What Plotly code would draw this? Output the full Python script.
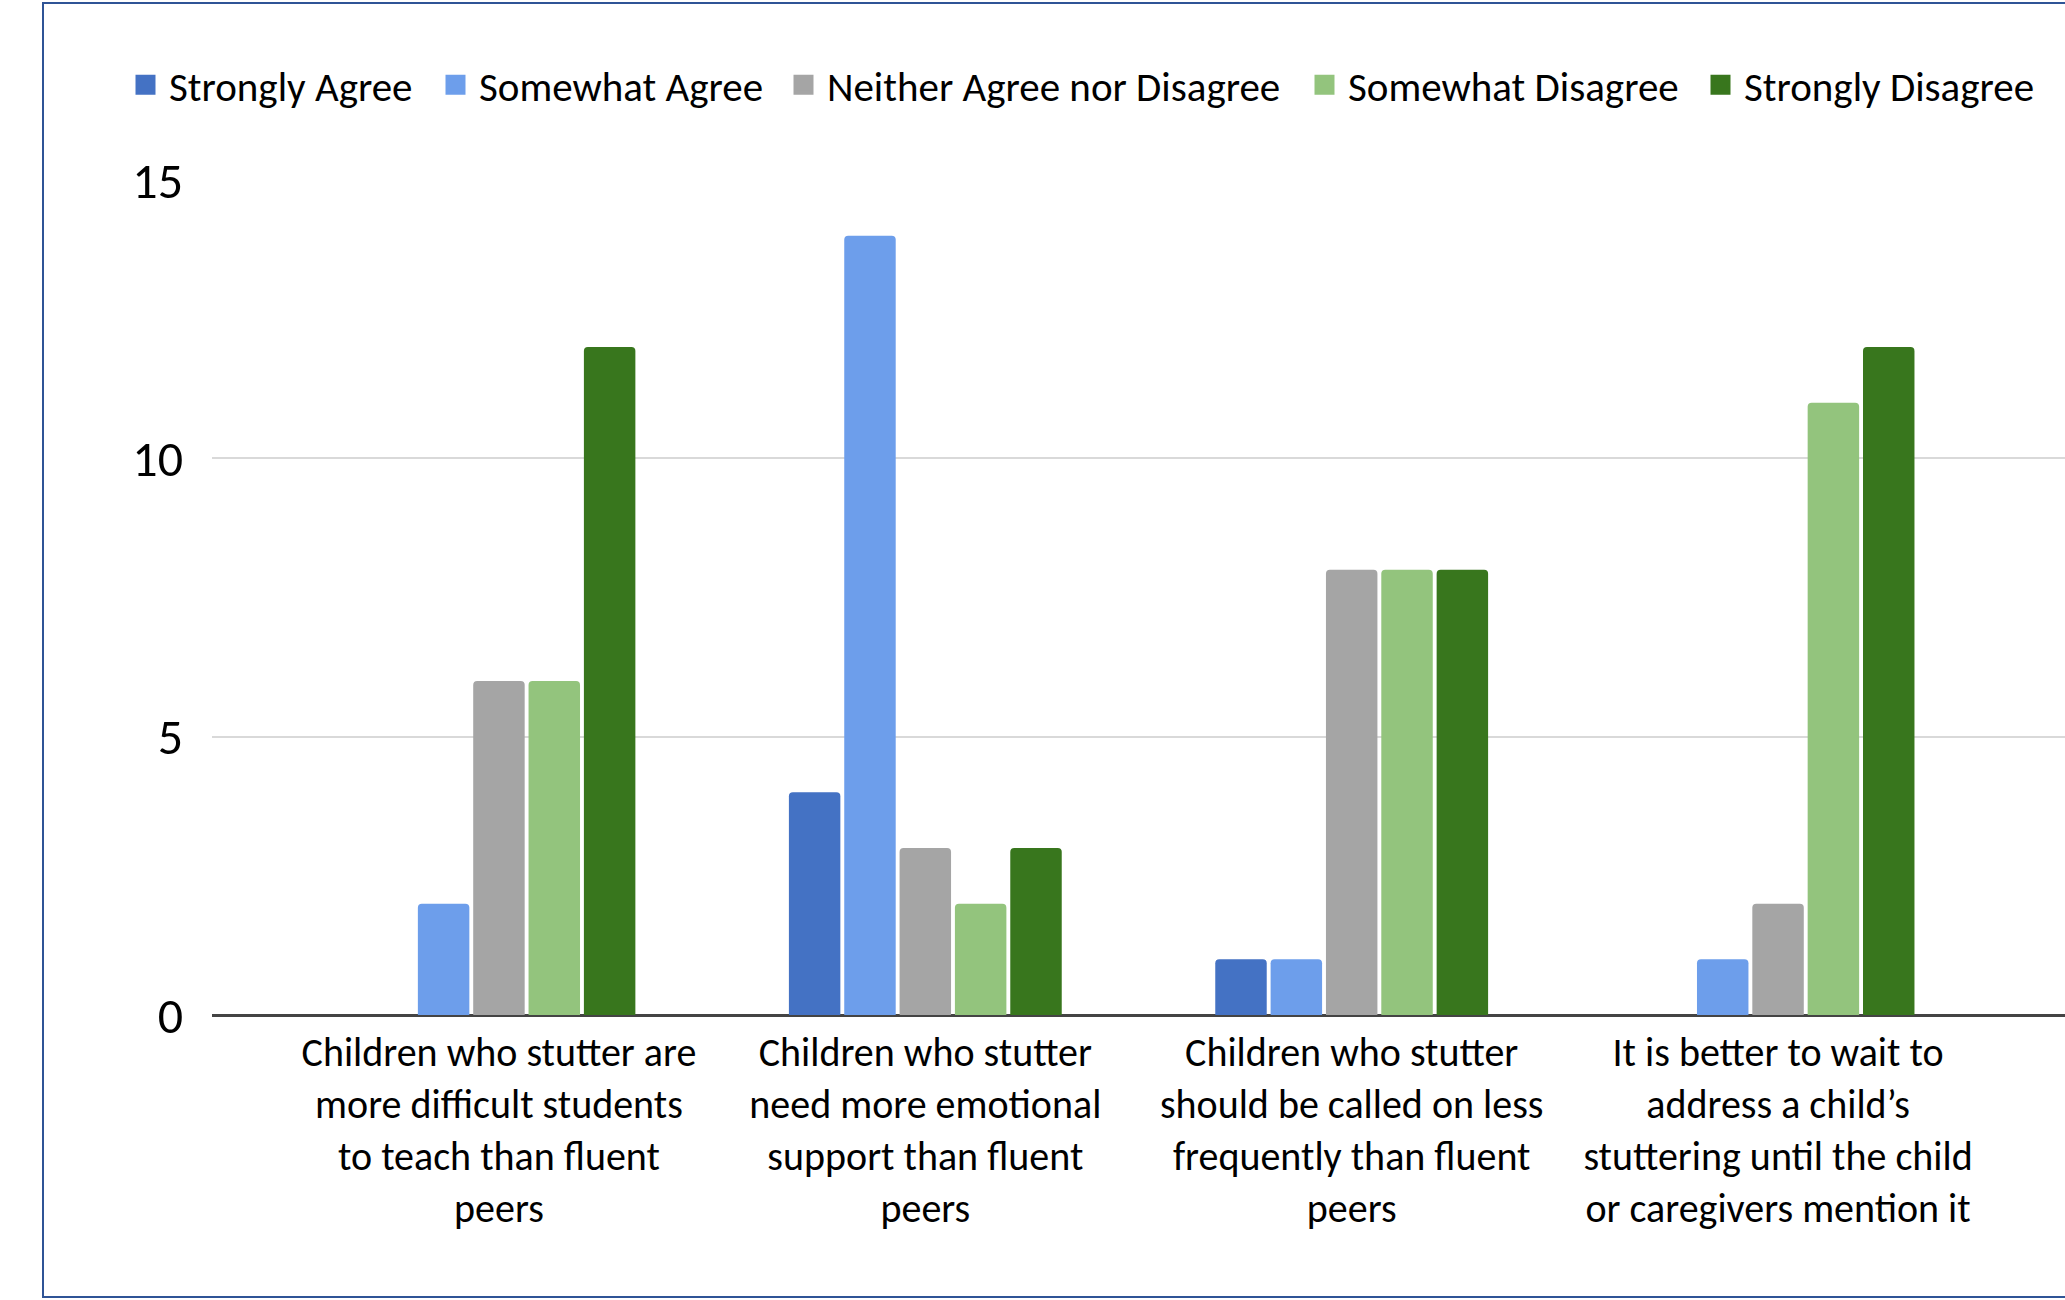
import plotly.graph_objects as go

categories = [
    "Children who stutter are<br>more difficult students<br>to teach than fluent<br>peers",
    "Children who stutter<br>need more emotional<br>support than fluent<br>peers",
    "Children who stutter<br>should be called on less<br>frequently than fluent<br>peers",
    "It is better to wait to<br>address a child\u2019s<br>stuttering until the child<br>or caregivers mention it",
]
series_names = ["Strongly Agree", "Somewhat Agree", "Neither Agree nor Disagree",
                "Somewhat Disagree", "Strongly Disagree"]
strongly_agree = [0, 4, 1, 0]
somewhat_agree = [2, 14, 1, 1]
neither = [6, 3, 8, 2]
somewhat_disagree = [6, 2, 8, 11]
strongly_disagree = [12, 3, 8, 12]
y_ticks = [0, 5, 10, 15]

values = [strongly_agree, somewhat_agree, neither, somewhat_disagree, strongly_disagree]
colors = ["#4472C4", "#6D9EEB", "#A5A5A5", "#93C47D", "#38761D"]
# left edge (px) of each legend swatch, as laid out in the reference
legend_left_px = [135, 445, 793, 1314, 1710]

FONT = "Carlito, Lato, sans-serif"

W, H = 2065, 1300
L, R, T, B = 212, 0, 180, 285
pw = W - L - R
ph = H - T - B

def px_x(px):
    return (px - L) / pw

def px_y(py):
    return (H - B - py) / ph

fig = go.Figure()
legend_layouts = {}
for i, (name, vals, col) in enumerate(zip(series_names, values, colors)):
    lg = "legend" if i == 0 else f"legend{i + 1}"
    fig.add_trace(go.Bar(
        x=categories, y=vals, name=name, showlegend=False,
        marker=dict(color=col, line=dict(width=0), cornerradius=4),
    ))
    fig.add_trace(go.Scatter(
        x=[None], y=[None], mode="markers", name=name, showlegend=True, legend=lg,
        marker=dict(symbol="square", size=16, color=col, line=dict(color=col, width=4)),
    ))
    legend_layouts[lg] = dict(
        orientation="h", x=px_x(legend_left_px[i] - 13), y=px_y(85),
        xanchor="left", yanchor="middle",
        font=dict(size=41, family=FONT, color="#000000"),
        itemwidth=37, bgcolor="rgba(0,0,0,0)",
    )

fig.update_layout(
    width=W, height=H,
    margin=dict(l=L, r=R, t=T, b=B, pad=0),
    paper_bgcolor="white", plot_bgcolor="white",
    barmode="group", bargap=0.351, bargroupgap=0.07,
    font=dict(family=FONT, color="#000000"),
    showlegend=True,
    xaxis=dict(
        range=[-0.673, 3.673], showgrid=False, showline=False, zeroline=False,
        tickfont=dict(size=40, family=FONT, color="#000000"),
        ticks="", ticklabelstandoff=10,
    ),
    yaxis=dict(
        range=[0, 15], tickvals=y_ticks, showgrid=True, gridcolor="#D9D9D9", gridwidth=2,
        zeroline=True, zerolinecolor="#444444", zerolinewidth=2.5,
        showline=False, ticks="",
        tickfont=dict(size=50, family=FONT, color="#000000"),
        ticklabelstandoff=28,
    ),
    shapes=[dict(
        type="rect", xref="paper", yref="paper",
        x0=px_x(43), x1=px_x(2120), y0=px_y(1297), y1=px_y(3),
        line=dict(color="#2F5496", width=2), fillcolor="rgba(0,0,0,0)", layer="below",
    )],
    **legend_layouts,
)

fig.write_html("out.html")
